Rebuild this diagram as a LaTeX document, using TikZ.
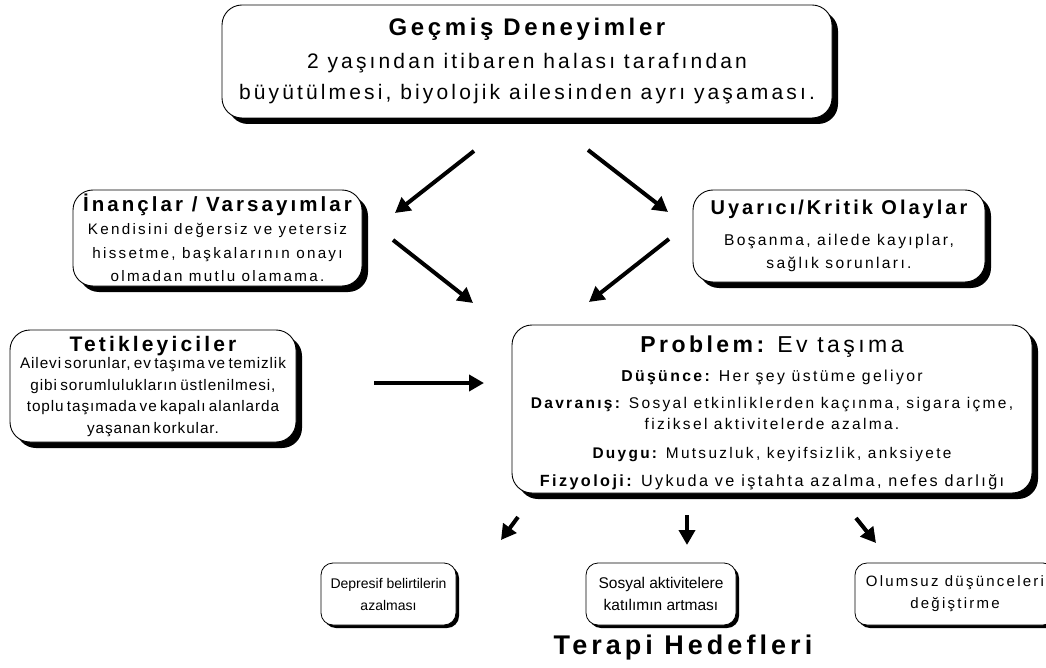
\documentclass[tikz,border=0pt]{standalone}
\usepackage{fontspec}
\setmainfont{Liberation Sans}
\newfontfamily\lsfont[LetterSpace=15]{Liberation Sans}
\newfontfamily\lsfontb[LetterSpace=6]{Liberation Sans}
\usetikzlibrary{shadows,arrows.meta}
\newcommand\ws{\hspace{0.42em}}
\newcommand\myfs[2]{\fontsize{#1}{#2}\selectfont}
\tikzset{
  bigbox/.style={draw, line width=0.9pt, rounded corners=20pt, fill=white,
    drop shadow={shadow xshift=6pt, shadow yshift=-6pt, fill=black, opacity=1},
    align=center, inner sep=0pt, font=\lsfont},
  goalbox/.style={draw, line width=0.8pt, rounded corners=12pt, fill=white,
    drop shadow={shadow xshift=3pt, shadow yshift=-3pt, fill=black, opacity=1},
    align=center, inner sep=0pt, minimum height=62pt},
  arr/.style={line width=4pt, -{Triangle[length=15pt,width=16pt]}},
}
\begin{document}
\begin{tikzpicture}[x=1pt,y=-1pt]
\useasboundingbox (0,0) rectangle (1046,668);

\node[bigbox, minimum width=610pt, minimum height=113pt, text width=600pt] (past) at (527,61.5)
 {{\myfs{24}{28}\bfseries Geçmiş\ws Deneyimler\par}\vspace{2pt}
  {\myfs{21}{31}2\ws yaşından\ws itibaren\ws halası\ws tarafından\\büyütülmesi,\ws biyolojik\ws ailesinden\ws ayrı\ws yaşaması.\par}};

\node[bigbox, minimum width=289pt, minimum height=96pt, text width=285pt] (bel) at (217.5,238)
 {{\myfs{20.5}{22}\bfseries İnançlar\ws /\ws Varsayımlar\par}
  {\myfs{15.2}{23.5}Kendisini\ws değersiz\ws ve\ws yetersiz\\hissetme,\ws başkalarının\ws onayı\\olmadan\ws mutlu\ws olamama.\par}};

\node[bigbox, minimum width=292pt, minimum height=92pt, text width=288pt] (crit) at (839,236)
 {{\myfs{20}{22}\bfseries Uyarıcı/Kritik\ws Olaylar\par}\vspace{8pt}
  {\myfs{15.6}{23}Boşanma,\ws ailede\ws kayıplar,\\sağlık\ws sorunları.\par}};

\node[bigbox, minimum width=286pt, minimum height=112pt, text width=284pt, text depth=84pt] (trig) at (153,386)
 {{\myfs{21}{22}\bfseries Tetikleyiciler\par}\vspace{-4.5pt}
  {\lsfontb\myfs{15.3}{21.5}Ailevi sorunlar, ev taşıma ve temizlik\\gibi sorumlulukların üstlenilmesi,\\toplu taşımada ve kapalı alanlarda\\yaşanan korkular.\par}};

\node[bigbox, minimum width=520pt, minimum height=168pt, text width=516pt] (prob) at (772,409)
 {{\myfs{23}{24}\rule{0pt}{24pt}\textbf{Problem:}\ws Ev\ws taşıma\par}\vspace{8pt}
  {\myfs{15.8}{21}\textbf{Düşünce:}\ws Her\ws şey\ws üstüme\ws geliyor\par}\vspace{6pt}
  {\myfs{15.5}{21}\textbf{Davranış:}\ws Sosyal\ws etkinliklerden\ws kaçınma,\ws sigara\ws içme,\\fiziksel\ws aktivitelerde\ws azalma.\par}\vspace{8pt}
  {\myfs{15.4}{21}\textbf{Duygu:}\ws Mutsuzluk,\ws keyifsizlik,\ws anksiyete\par}\vspace{7pt}
  {\myfs{16.2}{21}\textbf{Fizyoloji:}\ws Uykuda\ws ve\ws iştahta\ws azalma,\ws nefes\ws darlığı\par}};

\node[goalbox, minimum width=135pt, font=\fontsize{14}{22}\selectfont] (g1) at (388.5,594) {Depresif belirtilerin\\azalması};
\node[goalbox, minimum width=150pt, font=\fontsize{15.5}{22}\selectfont] (g2) at (661,594) {Sosyal aktivitelere\\katılımın artması};
\node[goalbox, minimum width=200pt, text width=196pt, font=\lsfont] (g3) at (955,594) {\myfs{15}{22}Olumsuz\ws düşünceleri\\değiştirme\par};

\node[font=\lsfont, inner sep=0pt] (goals) at (683,648) {\myfs{27}{30}\bfseries Terapi\ws Hedefleri};

\coordinate (a1s) at (474,151); \coordinate (a1e) at (395,213);
\coordinate (a2s) at (588,150); \coordinate (a2e) at (668,212);
\coordinate (a3s) at (393,240); \coordinate (a3e) at (473,303);
\coordinate (a4s) at (669,239); \coordinate (a4e) at (589,302);
\coordinate (a5s) at (374,383); \coordinate (a5e) at (484,383);
\coordinate (a6s) at (518,517); \coordinate (a6e) at (501,540);
\coordinate (a7s) at (687,515); \coordinate (a7e) at (687,545);
\coordinate (a8s) at (856,518); \coordinate (a8e) at (876,543);
\foreach \i in {1,...,8} {\draw[arr] (a\i s) -- (a\i e);}
\end{tikzpicture}
\end{document}
